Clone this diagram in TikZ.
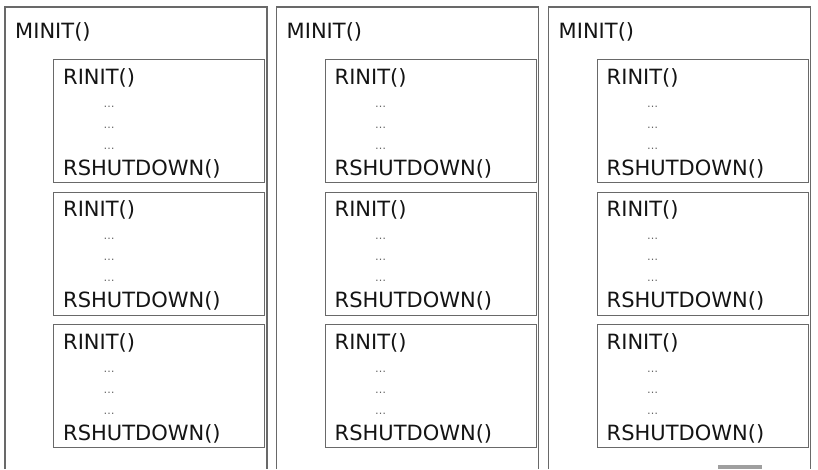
\documentclass[tikz,border=0pt]{standalone}
\usepackage{fontspec}
\setmainfont{DejaVu Sans}
\usetikzlibrary{positioning}
\definecolor{framegray}{RGB}{105,105,105}
\definecolor{callblack}{RGB}{20,20,20}
\definecolor{dotgray}{RGB}{100,100,100}
\tikzset{
  frame/.style={draw=framegray,line width=1.4pt},
  reqbox/.style={frame,anchor=north west,minimum width=211pt,minimum height=123pt,inner sep=0pt},
  call/.style={anchor=base west,inner sep=0pt,text=callblack,font=\fontsize{21}{24}\selectfont},
  dotline/.style={anchor=base,inner sep=0pt,text=dotgray,font=\fontsize{11}{12}\selectfont},
}

\begin{document}
\begin{tikzpicture}[x=1pt,y=-1pt]
\useasboundingbox (0,0) rectangle (818,469);
\fill[white] (0,0) rectangle (818,469);

\foreach \c/\dx in {1/0,2/271.5,3/543.5} {
\begin{scope}[xshift=\dx pt]
% module frame, open at the bottom
\draw [frame] (5,469) -- (5,7) -- (267,7) -- (267,469);
\node [call] (m\c) at (15,38) {MINIT()};

% request boxes
\foreach \r/\top in {1/59,2/191.5,3/324} {
\node [reqbox] (r\c\r) at (53,\top) {};
\node [call] (ri\c\r) at ([xshift=10pt,yshift=-25pt]r\c\r.north west) {RINIT()};
\node [dotline] (da\c\r) at ([xshift=56pt,yshift=-48pt]r\c\r.north west) {\ldots};
\node [dotline] (db\c\r) at ([xshift=56pt,yshift=-69pt]r\c\r.north west) {\ldots};
\node [dotline] (dc\c\r) at ([xshift=56pt,yshift=-90pt]r\c\r.north west) {\ldots};
\node [call] (rs\c\r) at ([xshift=10pt,yshift=-116pt]r\c\r.north west) {RSHUTDOWN()};
}
\end{scope}
}

\fill [gray!75] (718,465) rectangle (762,469);

\end{tikzpicture}
\end{document}
